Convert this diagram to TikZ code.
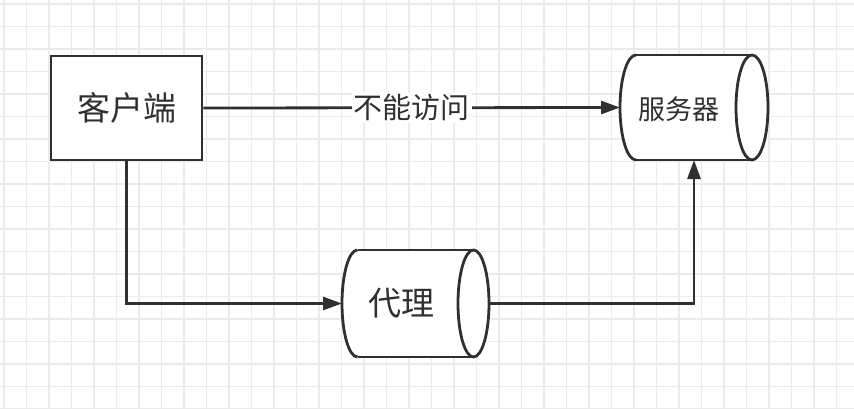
\documentclass[tikz,border=0pt]{standalone}
\usepackage{fontspec}
\newfontfamily\cjk{Noto Sans CJK SC}
\usetikzlibrary{arrows.meta}
\definecolor{ink}{HTML}{303030}
\definecolor{gridc}{HTML}{EBEBEB}
\tikzset{
  gridline/.style={draw=gridc, line width=1.4pt},
  boxshape/.style={draw=ink, line width=2.8pt, fill=white, inner sep=0pt},
  body/.style={inner sep=0pt, outer sep=0pt},
  cylline/.style={draw=ink, line width=2.8pt},
  txt/.style={text=ink, inner sep=0pt, font=\cjk},
  conn/.style={draw=ink, line width=2.8pt, -{Triangle[length=19pt,width=13pt]}},
}
\begin{document}
\begin{tikzpicture}[x=1pt,y=-1pt]
\useasboundingbox (0,0) rectangle (854,409);
\fill[white] (0,0) rectangle (854,409);
% grid
\foreach \i in {0,...,37} { \draw[gridline] ({4+22.5*\i},0) -- ({4+22.5*\i},409); }
\foreach \j in {0,...,18} { \draw[gridline] (0,{4+22.5*\j}) -- (854,{4+22.5*\j}); }

% client box
\node[boxshape, minimum width=151pt, minimum height=104pt] (cli) at (126.5,108) {};
\node[txt, font=\cjk\fontsize{33}{33}\selectfont] (clitext) at (126.5,108) {客户端};

% server cylinder
\node[body, minimum width=148pt, minimum height=105pt] (srv) at (694,107.5) {};
\fill[white] (636,107.5) ellipse [x radius=16, y radius=52.5];
\fill[white] (636,55) rectangle (752,160);
\draw[cylline] (636,55) arc[start angle=270, end angle=90, x radius=16, y radius=52.5];
\draw[cylline] (636,55) -- (752,55);
\draw[cylline] (636,160) -- (752,160);
\draw[cylline, fill=white] (752,107.5) ellipse [x radius=16, y radius=52.5];
\node[txt, font=\cjk\fontsize{27}{27}\selectfont] (srvtext) at (679,109) {服务器};

% proxy cylinder
\node[body, minimum width=147pt, minimum height=107pt] (prx) at (415.5,303.5) {};
\fill[white] (357.5,303.5) ellipse [x radius=15.5, y radius=53.5];
\fill[white] (357.5,250) rectangle (473.5,357);
\draw[cylline] (357.5,250) arc[start angle=270, end angle=90, x radius=15.5, y radius=53.5];
\draw[cylline] (357.5,250) -- (473.5,250);
\draw[cylline] (357.5,357) -- (473.5,357);
\draw[cylline, fill=white] (473.5,303.5) ellipse [x radius=15.5, y radius=53.5];
\node[txt, font=\cjk\fontsize{33}{33}\selectfont] (prxtext) at (401,303.5) {代理};

% connectors
\draw[conn] (cli.east) -- node[txt, fill=white, inner sep=2pt, font=\cjk\fontsize{29}{29}\selectfont] (lbl) {不能访问} (srv.west);
\draw[conn] (cli.south) |- (prx.west);
\draw[conn] (prx.east) -| (srv.south);
\end{tikzpicture}
\end{document}
